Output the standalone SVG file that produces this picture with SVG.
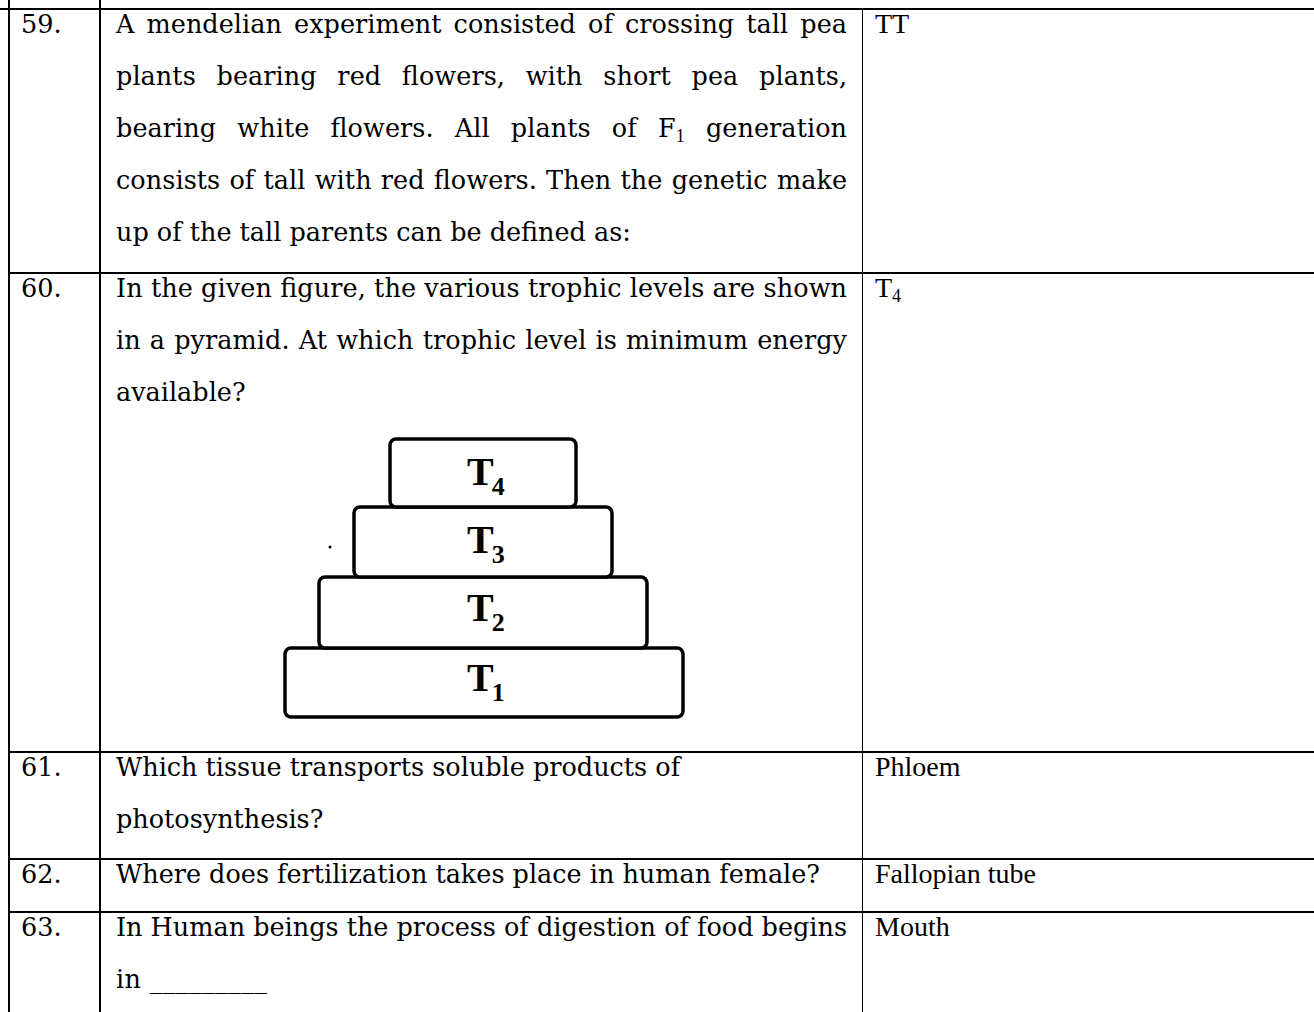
<svg xmlns="http://www.w3.org/2000/svg" width="1314" height="1012" viewBox="0 0 1314 1012">
<style>
.q{font-family:"DejaVu Serif","Liberation Serif",serif;font-size:25.5px;fill:#000}
.n{font-family:"DejaVu Serif","Liberation Serif",serif;font-size:25.5px;fill:#000}
.a{font-family:"Liberation Serif","Times New Roman",serif;font-size:28px;fill:#000}
.sub{font-family:"Liberation Serif","Times New Roman",serif;font-size:18px}
.pl{font-family:"Liberation Serif","Times New Roman",serif;font-size:40px;font-weight:bold;fill:#000}
.ps{font-size:26px}
.box{fill:#fff;stroke:#000;stroke-width:3.5}
.thick{stroke:#000;stroke-width:2}
.thin{stroke:#000;stroke-width:1}
</style>
<rect width="1314" height="1012" fill="#fff"/>
<g id="grid">
<line class="thick" x1="0" y1="9" x2="1314" y2="9"/>
<line class="thick" x1="9" y1="273" x2="1314" y2="273"/>
<line class="thick" x1="9" y1="752" x2="1314" y2="752"/>
<line class="thick" x1="9" y1="859" x2="1314" y2="859"/>
<line class="thick" x1="9" y1="912" x2="1314" y2="912"/>
<line class="thick" x1="9" y1="0" x2="9" y2="1012"/>
<line class="thick" x1="100" y1="0" x2="100" y2="1012"/>
<line class="thin" x1="862.5" y1="9" x2="862.5" y2="1012"/>
</g>
<g id="row-59">
<text class="n" x="21" y="33">59.</text>
<text class="q" x="116" y="33" word-spacing="4" textLength="731" lengthAdjust="spacing">A mendelian experiment consisted of crossing tall pea</text>
<text class="q" x="116" y="85" word-spacing="12.5" textLength="731" lengthAdjust="spacing">plants bearing red flowers, with short pea plants,</text>
<text class="q" x="116" y="137" word-spacing="13" textLength="731" lengthAdjust="spacing">bearing white flowers. All plants of F<tspan class="sub" dy="5">1</tspan><tspan dy="-5"> generation</tspan></text>
<text class="q" x="116" y="189" word-spacing="1" textLength="731" lengthAdjust="spacing">consists of tall with red flowers. Then the genetic make</text>
<text class="q" x="116" y="241">up of the tall parents can be defined as:</text>
<text class="a" x="875" y="33">TT</text>
</g>
<g id="row-60">
<text class="n" x="21" y="297">60.</text>
<text class="q" x="116" y="297" textLength="731" lengthAdjust="spacing">In the given figure, the various trophic levels are shown</text>
<text class="q" x="116" y="349" word-spacing="1" textLength="731" lengthAdjust="spacing">in a pyramid. At which trophic level is minimum energy</text>
<text class="q" x="116" y="401">available?</text>
<text class="a" x="875" y="297">T<tspan class="sub" dy="5">4</tspan></text>
<g id="pyramid">
<rect class="box" x="285" y="648" width="398" height="69" rx="6"/>
<rect class="box" x="319" y="577" width="328" height="71" rx="6"/>
<rect class="box" x="354" y="507" width="258" height="70" rx="6"/>
<rect class="box" x="390" y="439" width="186" height="68" rx="6"/>
<circle cx="330" cy="547" r="1.5" fill="#000"/>
<text class="pl" x="467" y="485">T<tspan class="ps" dx="-2" dy="10">4</tspan></text>
<text class="pl" x="467" y="553">T<tspan class="ps" dx="-2" dy="10">3</tspan></text>
<text class="pl" x="467" y="621">T<tspan class="ps" dx="-2" dy="10">2</tspan></text>
<text class="pl" x="467" y="691">T<tspan class="ps" dx="-2" dy="10">1</tspan></text>
</g>
</g>
<g id="row-61">
<text class="n" x="21" y="776">61.</text>
<text class="q" x="116" y="776">Which tissue transports soluble products of</text>
<text class="q" x="116" y="828">photosynthesis?</text>
<text class="a" x="875" y="776">Phloem</text>
</g>
<g id="row-62">
<text class="n" x="21" y="883">62.</text>
<text class="q" x="116" y="883">Where does fertilization takes place in human female?</text>
<text class="a" x="875" y="883">Fallopian tube</text>
</g>
<g id="row-63">
<text class="n" x="21" y="936">63.</text>
<text class="q" x="116" y="936" textLength="731" lengthAdjust="spacing">In Human beings the process of digestion of food begins</text>
<text class="q" x="116" y="988" textLength="151" lengthAdjust="spacing">in _________</text>
<text class="a" x="875" y="936">Mouth</text>
</g>
</svg>
